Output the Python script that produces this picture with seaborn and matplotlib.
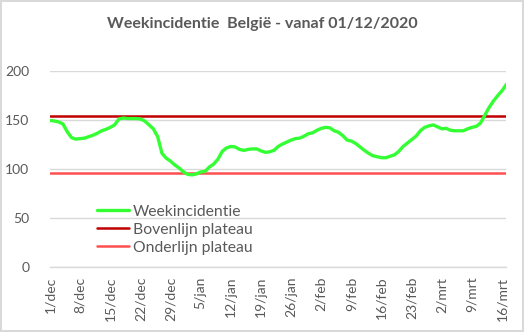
import matplotlib
matplotlib.use("Agg")
import matplotlib.pyplot as plt
import seaborn as sns
import pandas as pd
import numpy as np

# ---- data ----
start_date = "2020-12-01"
weekincidentie = [
    149.5, 149, 148, 146, 138, 132, 130.5, 131, 131.5, 133,
    134.5, 136.5, 139, 140.5, 142.5, 145, 151, 152, 151.5, 151.5,
    151.5, 151, 149, 145, 141, 133, 116, 111, 108, 104,
    101, 97, 94.5, 94, 95, 97, 97.5, 102, 105, 110,
    118, 121.5, 123, 122.5, 120, 119, 120, 120.5, 120.5, 118.5,
    117, 117.5, 119, 123, 125.5, 127.5, 129.5, 131, 131.5, 133.5,
    136, 137, 139.5, 141.5, 142.5, 142, 139, 137.5, 134, 129.5,
    128.5, 126, 122.5, 119, 116, 113.5, 112.5, 111.5, 111.5, 113,
    114.5, 118, 123, 126.5, 130, 133.5, 139, 142.5, 144, 145,
    143, 141, 141.5, 139.5, 139, 139, 139, 141, 142.5, 143.5,
    147, 155, 163, 169.5, 175, 180, 186.5,
]
bovenlijn = 153.7
onderlijn = 95.5
tick_labels = ["1/dec", "8/dec", "15/dec", "22/dec", "29/dec", "5/jan", "12/jan",
               "19/jan", "26/jan", "2/feb", "9/feb", "16/feb", "23/feb", "2/mrt",
               "9/mrt", "16/mrt"]
y_ticks = [0, 50, 100, 150, 200]
title = "Weekincidentie  België - vanaf 01/12/2020"

n = len(weekincidentie)
df = pd.DataFrame({
    "dag": np.arange(n),
    "Weekincidentie": weekincidentie,
    "Bovenlijn plateau": [bovenlijn] * n,
    "Onderlijn plateau": [onderlijn] * n,
})

sns.set_style("white")
plt.rcParams["font.family"] = ["Lato", "DejaVu Sans"]
txt = "#595959"
grid = "#d9d9d9"

fig = plt.figure(figsize=(5.24, 3.32), dpi=100, edgecolor=grid, linewidth=1.5)
W, H = 524, 332
ax = fig.add_axes([50 / W, 1 - 267 / H, (506 - 50) / W, (267 - 71) / H])

sns.lineplot(data=df, x="dag", y="Weekincidentie", ax=ax, color="#33ff33",
             linewidth=2.4, label="Weekincidentie", zorder=4)
sns.lineplot(data=df, x="dag", y="Bovenlijn plateau", ax=ax, color="#c00000",
             linewidth=1.8, label="Bovenlijn plateau", zorder=3)
sns.lineplot(data=df, x="dag", y="Onderlijn plateau", ax=ax, color="#ff4f4f",
             linewidth=1.8, label="Onderlijn plateau", zorder=3)

ax.set_xlim(0, 105.9)
ax.set_ylim(0, 200)
ax.set_yticks(y_ticks)
ax.set_yticklabels([str(v) for v in y_ticks])
ax.set_xticks(np.arange(len(tick_labels)) * 7)
ax.set_xticklabels(tick_labels, rotation=90)
ax.set_xlabel("")
ax.set_ylabel("")
ax.yaxis.grid(True, color=grid, linewidth=1)
ax.set_axisbelow(True)
for s in ["top", "right", "left"]:
    ax.spines[s].set_visible(False)
ax.spines["bottom"].set_color(grid)
ax.spines["bottom"].set_linewidth(1)
ax.tick_params(axis="x", colors=txt, labelsize=10, length=4, width=1, color=grid, pad=3)
ax.tick_params(axis="y", colors=txt, labelsize=10, length=0, pad=15)

leg = ax.legend(loc="upper left", bbox_to_anchor=(0.09, 0.35), frameon=False,
                fontsize=11.3, handlelength=2.0, handletextpad=0.25,
                labelspacing=0.25, borderaxespad=0)
for t in leg.get_texts():
    t.set_color(txt)

fig.text(262 / W, 1 - 24 / H, title, ha="center", va="center",
         fontsize=11.5, fontweight="bold", color=txt)

fig.savefig("out.png", dpi=100, facecolor="white", edgecolor=fig.get_edgecolor())
